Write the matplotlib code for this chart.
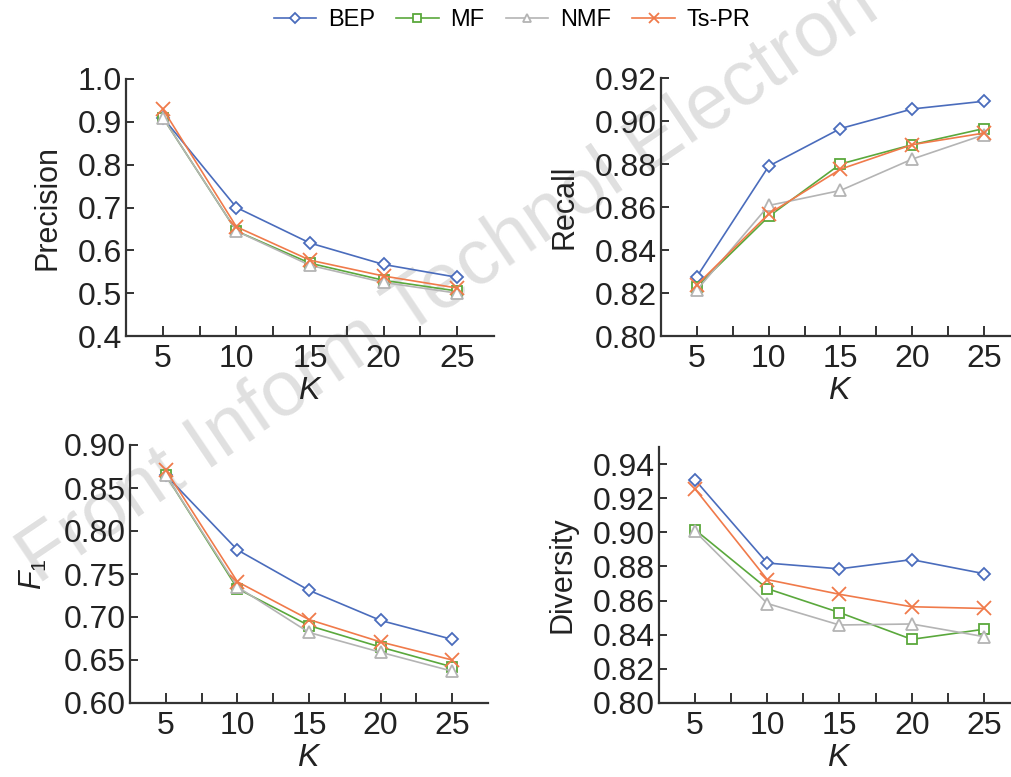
import matplotlib
matplotlib.use("Agg")
import matplotlib.pyplot as plt
from matplotlib.ticker import FixedLocator
import numpy as np

plt.rcParams['font.family'] = ['Liberation Sans', 'DejaVu Sans']
plt.rcParams['mathtext.fontset'] = 'custom'
plt.rcParams['mathtext.rm'] = 'Liberation Sans'
plt.rcParams['mathtext.it'] = 'Liberation Sans:italic'

K = [5, 10, 15, 20, 25]
methods = ['BEP', 'MF', 'NMF', 'Ts-PR']

precision = {
    'BEP':   [0.910, 0.700, 0.617, 0.567, 0.537],
    'MF':    [0.910, 0.645, 0.570, 0.530, 0.505],
    'NMF':   [0.910, 0.645, 0.565, 0.525, 0.500],
    'Ts-PR': [0.930, 0.655, 0.577, 0.540, 0.512],
}
recall = {
    'BEP':   [0.8276, 0.8790, 0.8965, 0.9056, 0.9092],
    'MF':    [0.8230, 0.8556, 0.8800, 0.8890, 0.8965],
    'NMF':   [0.8214, 0.8607, 0.8677, 0.8823, 0.8936],
    'Ts-PR': [0.8238, 0.8568, 0.8776, 0.8890, 0.8944],
}
f1 = {
    'BEP':   [0.865, 0.778, 0.731, 0.696, 0.674],
    'MF':    [0.865, 0.733, 0.690, 0.665, 0.642],
    'NMF':   [0.865, 0.735, 0.682, 0.659, 0.637],
    'Ts-PR': [0.871, 0.741, 0.697, 0.671, 0.650],
}
diversity = {
    'BEP':   [0.9307, 0.8820, 0.8786, 0.8840, 0.8758],
    'MF':    [0.9015, 0.8670, 0.8530, 0.8373, 0.8432],
    'NMF':   [0.9005, 0.8583, 0.8457, 0.8463, 0.8389],
    'Ts-PR': [0.9254, 0.8723, 0.8637, 0.8564, 0.8554],
}

colors = {'BEP': '#4a6cbc', 'MF': '#5aa83c', 'NMF': '#b4b4b4', 'Ts-PR': '#f07a4a'}
markers = {'BEP': 'D', 'MF': 's', 'NMF': '^', 'Ts-PR': 'x'}
msizes = {'BEP': 6.5, 'MF': 7.5, 'NMF': 8, 'Ts-PR': 10}

W, H = 1012, 777
fig = plt.figure(figsize=(W / 100, H / 100), dpi=100)

# watermark
fig.text(38 / W, 1 - 585 / H, 'Front Inform Technol Electron Eng', fontsize=56,
         color='#e0e0e0', rotation=34, rotation_mode='anchor', ha='left', va='baseline',
         zorder=-1)

def px_axes(l, t, r, b):
    ax = fig.add_axes([l / W, 1 - b / H, (r - l) / W, (b - t) / H])
    ax.patch.set_alpha(0)
    return ax

panels = [
    (px_axes(126, 79, 494, 336), precision, (0.4, 1.0), 0.1, '%.1f', 'Precision'),
    (px_axes(661, 78, 1020, 336), recall, (0.80, 0.92), 0.02, '%.2f', 'Recall'),
    (px_axes(130, 445, 488, 703), f1, (0.60, 0.90), 0.05, '%.2f', r'$F_1$'),
    (px_axes(659, 447, 1020, 703), diversity, (0.80, 0.95), 0.02, '%.2f', 'Diversity'),
]

spine_c = '#333333'
handles = []
for i, (ax, data, ylim, step, fmt, ylabel) in enumerate(panels):
    for m in methods:
        fc = 'none' if m == 'Ts-PR' else 'white'
        h, = ax.plot(K, data[m], color=colors[m], marker=markers[m], lw=1.2,
                     ms=msizes[m], mfc=fc, mec=colors[m], mew=1.3, label=m)
        if i == 0:
            handles.append(h)
    ax.set_xlim(2.5, 27.5)
    ax.set_ylim(*ylim)
    ax.xaxis.set_major_locator(FixedLocator(K))
    ax.xaxis.set_minor_locator(FixedLocator([7.5, 12.5, 17.5, 22.5]))
    yt = np.round(np.arange(ylim[0], ylim[1] + 1e-9, step), 4)
    ax.set_yticks(yt)
    ax.set_yticklabels([fmt % v for v in yt])
    for s in ['top', 'right']:
        ax.spines[s].set_visible(False)
    for s in ['left', 'bottom']:
        ax.spines[s].set_color(spine_c)
        ax.spines[s].set_linewidth(1.6)
    ax.tick_params(axis='both', which='both', direction='in', color=spine_c,
                   width=1.4, labelsize=23, labelcolor='#222222')
    ax.tick_params(axis='x', which='both', length=7, pad=6)
    ax.tick_params(axis='y', which='major', length=6, pad=3)
    ax.set_xlabel('$K$', fontsize=23, labelpad=1, color='#222222')
    ax.set_ylabel(ylabel, fontsize=22, labelpad=11, color='#222222')

fig.legend(handles=handles, labels=methods, loc='center', bbox_to_anchor=(512 / W, 1 - 20 / H),
           ncol=4, frameon=False, fontsize=17, handlelength=1.8, handletextpad=0.5,
           columnspacing=0.9, markerscale=0.75)

fig.savefig('out.png', dpi=100)
